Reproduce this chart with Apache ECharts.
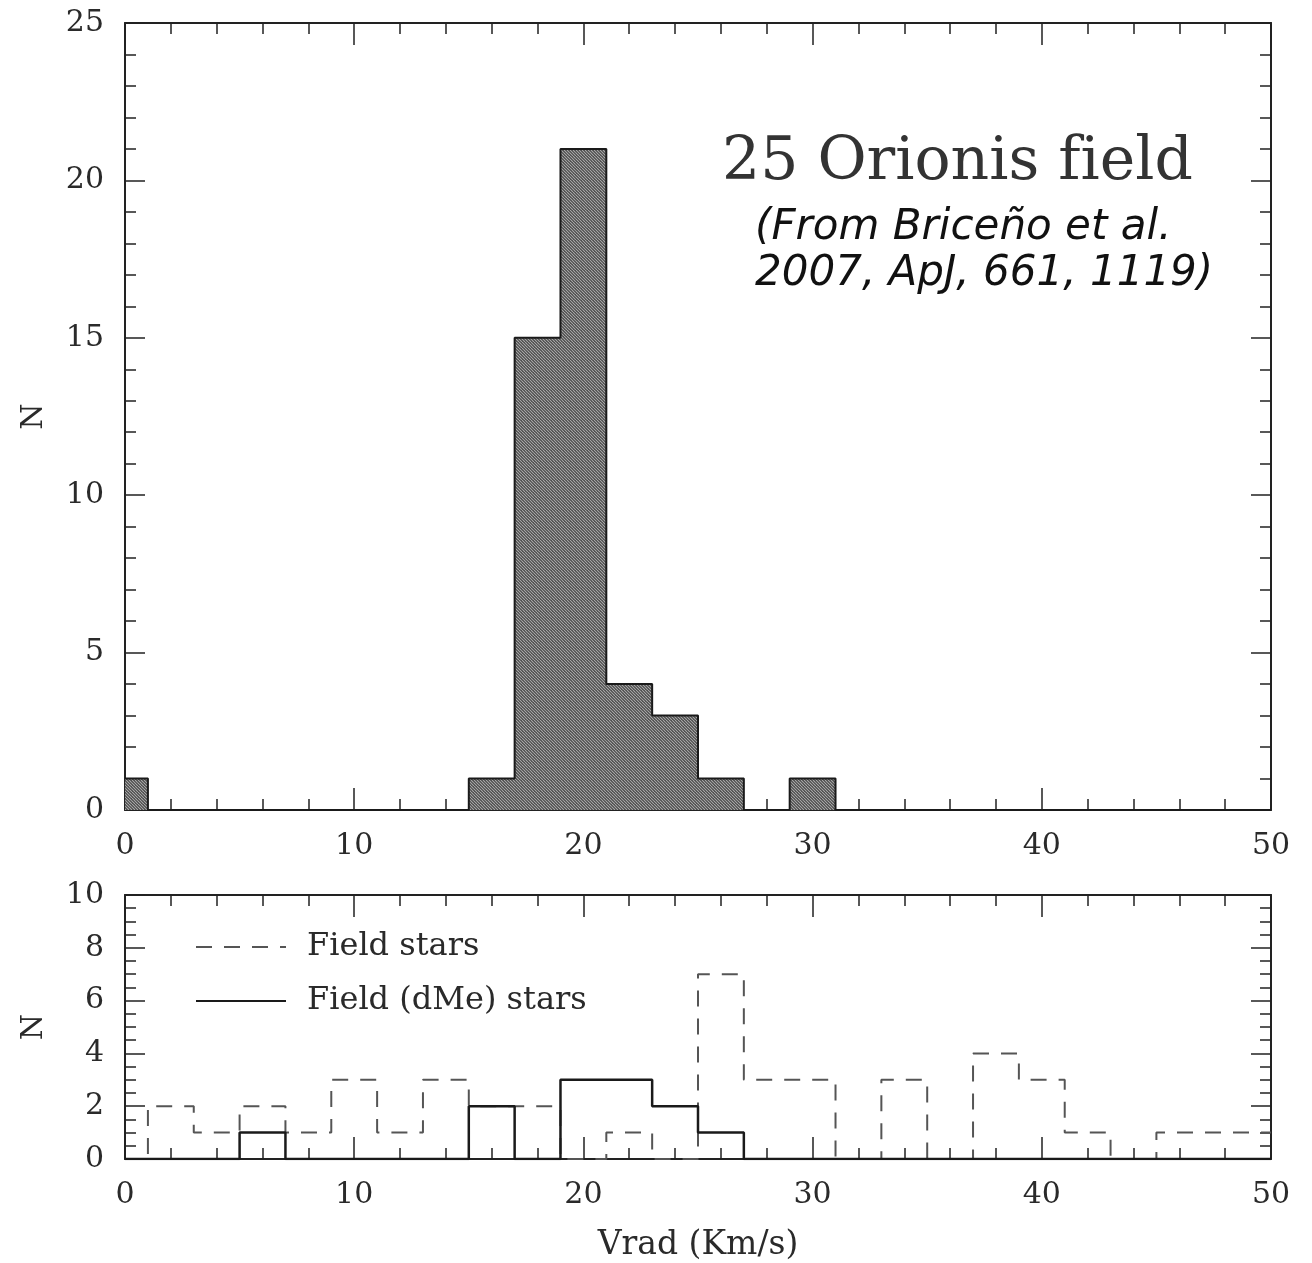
<!DOCTYPE html>
<html><head><meta charset="utf-8">
<script src="https://cdn.jsdelivr.net/npm/echarts@6/dist/echarts.min.js"></script>
<style>html,body{margin:0;padding:0;background:#fff}#c{width:1312px;height:1263px}</style>
</head><body><div id="c"></div>
<script>
// Bin centres (bins are 2 km/s wide, edges at odd values)
const binCenters = [0,2,4,6,8,10,12,14,16,18,20,22,24,26,28,30,32,34,36,38,40,42,44,46,48,50];
// Top panel: 25 Orionis field members
const clusterCounts = [1,0,0,0,0,0,0,0,1,15,21,4,3,1,0,1,0,0,0,0,0,0,0,0,0,0];
// Bottom panel: field stars (dashed) and field dMe stars (solid)
const fieldCounts   = [0,2,1,2,1,3,1,3,2,2,0,1,0,7,3,3,0,3,0,4,3,1,0,1,1,1];
const dmeCounts     = [0,0,0,1,0,0,0,0,2,0,3,3,2,1,0,0,0,0,0,0,0,0,0,0,0,0];
const seriesNames = ['Field stars', 'Field (dMe) stars'];
// title split in two rich segments only so that the "fi" ligature is not formed
const titleParts = ['25 Orionis f', 'ield'];
const citeText = '(From Briceño et al.\n2007, ApJ, 661, 1119)';

function pairs(vals){ return binCenters.map((x,i)=>[x, vals[i]]); }

// hatch pattern
const pc = document.createElement('canvas');
pc.width = 6; pc.height = 6;
const g = pc.getContext('2d');
g.fillStyle = '#3e3e3e'; g.fillRect(0,0,6,6);
g.strokeStyle = '#a8a8a8'; g.lineWidth = 1.2;
for (let k=-6;k<=12;k+=3){ g.beginPath(); g.moveTo(k,0); g.lineTo(k+6,6); g.stroke(); }

const FONT = 'DejaVu Serif';
const axisLineStyle = {color:'#222', width:2};
const lbl = {fontFamily:FONT, fontSize:30, color:'#2a2a2a'};

function xAx(grid, pos, showLabel, extra){
  return Object.assign({
    type:'value', gridIndex:grid, position:pos, min:0, max:50, interval:10,
    axisLine:{show:true, onZero:false, lineStyle:axisLineStyle},
    axisTick:{show:true, inside:true, length:22, lineStyle:{color:'#222', width:1.5}},
    minorTick:{show:true, splitNumber:5, length:11, lineStyle:{color:'#222', width:1.5}},
    axisLabel:Object.assign({show:showLabel, margin:21}, lbl),
    splitLine:{show:false}, minorSplitLine:{show:false}
  }, extra||{});
}
function yAx(grid, pos, showLabel, max, interval, minorSplit, extra){
  return Object.assign({
    type:'value', gridIndex:grid, position:pos, min:0, max:max, interval:interval,
    axisLine:{show:true, onZero:false, lineStyle:axisLineStyle},
    axisTick:{show:true, inside:true, length:20, lineStyle:{color:'#222', width:1.5}},
    minorTick:{show:true, splitNumber:minorSplit, length:11, lineStyle:{color:'#222', width:1.5}},
    axisLabel:Object.assign({show:showLabel, margin:21}, lbl),
    splitLine:{show:false}, minorSplitLine:{show:false}
  }, extra||{});
}

const chart = echarts.init(document.getElementById('c'), null, {renderer:'canvas'});
chart.setOption({
  animation:false,
  backgroundColor:'#fff',
  grid:[
    {left:125, top:23, width:1146, height:787},
    {left:125, top:895, width:1146, height:268}
  ],
  xAxis:[
    xAx(0,'bottom',true),
    xAx(0,'top',false),
    xAx(1,'bottom',true,{name:'Vrad (Km/s)', nameLocation:'middle', nameGap:70,
      nameTextStyle:{fontFamily:FONT, fontSize:33, color:'#2a2a2a'}}),
    xAx(1,'top',false)
  ],
  yAxis:[
    yAx(0,'left',true,25,5,5,{name:'N', nameLocation:'middle', nameGap:76, nameRotate:90,
      nameTextStyle:{fontFamily:FONT, fontSize:30, color:'#2a2a2a'}}),
    yAx(0,'right',false,25,5,5),
    yAx(1,'left',true,10,2,4,{name:'N', nameLocation:'middle', nameGap:76, nameRotate:90,
      nameTextStyle:{fontFamily:FONT, fontSize:30, color:'#2a2a2a'}}),
    yAx(1,'right',false,10,2,4)
  ],
  legend:{
    data:seriesNames, orient:'vertical', left:190, top:926,
    itemWidth:90, itemHeight:20, itemGap:22,
    itemStyle:{opacity:0},
    textStyle:{fontFamily:FONT, fontSize:32, color:'#2a2a2a', padding:[0,0,0,16]}
  },
  series:[
    {type:'line', name:'25 Ori', xAxisIndex:0, yAxisIndex:0, data:pairs(clusterCounts),
      step:'middle', symbol:'none', clip:true,
      lineStyle:{color:'#1a1a1a', width:2},
      areaStyle:{color:{image:pc, repeat:'repeat'}, opacity:1}, z:3},
    {type:'line', name:seriesNames[0], xAxisIndex:2, yAxisIndex:2, data:pairs(fieldCounts),
      step:'middle', symbol:'none', clip:true, color:'#555',
      lineStyle:{color:'#555', width:2, type:[16,12]}, z:3},
    {type:'line', name:seriesNames[1], xAxisIndex:2, yAxisIndex:2, data:pairs(dmeCounts),
      step:'middle', symbol:'none', clip:true, color:'#1a1a1a',
      lineStyle:{color:'#1a1a1a', width:2.5}, z:4}
  ],
  graphic:[
    {type:'text', left:722, top:133, style:{
      text:'{t|' + titleParts[0] + '}{t|' + titleParts[1] + '}',
      rich:{t:{fontFamily:FONT, fontSize:60, fill:'#333', color:'#333'}},
      fontFamily:FONT, fontSize:60, fill:'#333'}},
    {type:'text', left:755, top:205, style:{text:citeText, fontFamily:'DejaVu Sans', fontStyle:'italic', fontSize:42, lineHeight:46, fill:'#111'}}
  ]
});
</script></body></html>
